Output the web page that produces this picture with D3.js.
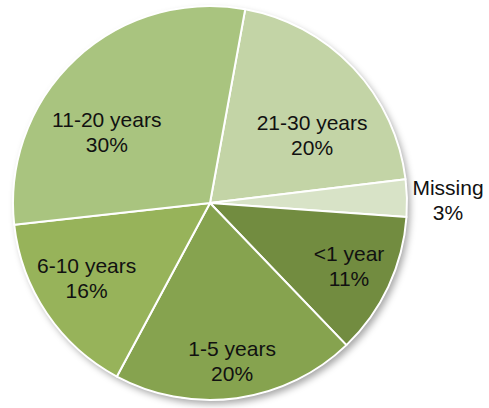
<!DOCTYPE html>
<html><head><meta charset="utf-8">
<script src="https://cdn.jsdelivr.net/npm/d3@7"></script>
<style>html,body{margin:0;padding:0;background:#fff;}svg{display:block;}</style>
</head><body>
<svg id="chart" width="489" height="408"></svg>
<script>
// Data (clockwise from the top boundary)
const categories = ["21-30 years", "Missing", "<1 year", "1-5 years", "6-10 years", "11-20 years"];
const values = [20.2, 3.05, 11.7, 20.0, 15.4, 29.6];
const pctLabels = ["20%", "3%", "11%", "20%", "16%", "30%"];

// Styles / layout
const colors = ["#C3D4A6", "#D8E3C7", "#728C40", "#86A34F", "#97B35A", "#A9C47F"];
const labelPolar = [ // [radius, angle in degrees] of label centre
  [122, 56.8], [238, 89.4], [153, 114.7], [161, 172.1], [145, 238.3], [124.5, 304]
];

const svg = d3.select("#chart");
const cx = 210, cy = 203, R = 197;
const defs = svg.append("defs");
const f = defs.append("filter").attr("id", "sh").attr("x", "-10%").attr("y", "-10%").attr("width", "130%").attr("height", "130%");
f.append("feDropShadow").attr("dx", 3).attr("dy", 4).attr("stdDeviation", 3.5).attr("flood-color", "#000").attr("flood-opacity", 0.35);

const start = 10.3 * Math.PI / 180;
const pie = d3.pie().sort(null).value(d => d).startAngle(start).endAngle(start + 2 * Math.PI);
const arcs = pie(values);
const arc = d3.arc().innerRadius(0).outerRadius(R);

const g = svg.append("g").attr("transform", `translate(${cx},${cy})`);
g.append("circle").attr("r", R).attr("fill", "#fff").attr("filter", "url(#sh)");
g.selectAll("path.s").data(arcs).join("path")
  .attr("class", "s")
  .attr("d", arc)
  .attr("fill", (d, i) => colors[i])
  .attr("stroke", "#fff").attr("stroke-width", 2).attr("stroke-linejoin", "round");

const lg = g.selectAll("text.l").data(arcs).join("text")
  .attr("class", "l")
  .attr("font-family", "'Liberation Sans', Arial, sans-serif")
  .attr("font-size", 21)
  .attr("fill", "#111")
  .attr("text-anchor", "middle")
  .attr("transform", (d, i) => {
    const [r, a] = labelPolar[i];
    const t = a * Math.PI / 180;
    return `translate(${r * Math.sin(t)},${-r * Math.cos(t)})`;
  });
lg.append("tspan").attr("x", 0).attr("y", -6).text((d, i) => categories[i]);
lg.append("tspan").attr("x", 0).attr("y", 19).text((d, i) => pctLabels[i]);
</script>
</body></html>
